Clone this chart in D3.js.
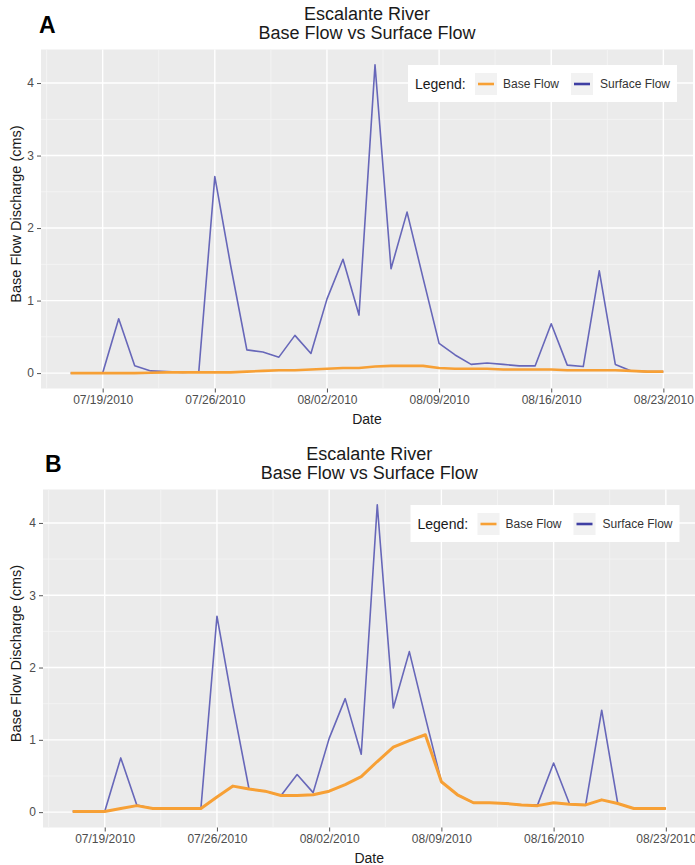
<!DOCTYPE html>
<html><head><meta charset="utf-8">
<script src="https://cdn.jsdelivr.net/npm/d3@7"></script>
<style>
body{margin:0;background:#fff}
svg{display:block}
text{font-family:"Liberation Sans",Arial,sans-serif}
</style>
</head><body>
<svg id="c" width="695" height="865"></svg>
<script>
// ---- data ----
const dates = ["07/17/2010","07/18/2010","07/19/2010","07/20/2010","07/21/2010","07/22/2010","07/23/2010","07/24/2010","07/25/2010","07/26/2010","07/27/2010","07/28/2010","07/29/2010","07/30/2010","07/31/2010","08/01/2010","08/02/2010","08/03/2010","08/04/2010","08/05/2010","08/06/2010","08/07/2010","08/08/2010","08/09/2010","08/10/2010","08/11/2010","08/12/2010","08/13/2010","08/14/2010","08/15/2010","08/16/2010","08/17/2010","08/18/2010","08/19/2010","08/20/2010","08/21/2010","08/22/2010","08/23/2010"];
const surfaceFlowA = [0,0,0,0.75,0.10,0.03,0.02,0.01,0.02,2.71,1.47,0.32,0.29,0.22,0.52,0.27,1.02,1.57,0.80,4.25,1.44,2.22,1.31,0.41,0.25,0.12,0.14,0.12,0.10,0.10,0.68,0.11,0.09,1.41,0.12,0.03,0.02,0.02];
const surfaceFlowB = [0.01,0.01,0.01,0.75,0.10,0.05,0.05,0.05,0.05,2.71,1.47,0.32,0.29,0.23,0.52,0.27,1.02,1.57,0.80,4.25,1.44,2.22,1.31,0.42,0.24,0.13,0.13,0.12,0.10,0.10,0.68,0.11,0.10,1.41,0.12,0.05,0.05,0.05];
const baseFlowA = [0,0,0,0,0,0.005,0.01,0.01,0.01,0.01,0.01,0.02,0.03,0.04,0.04,0.05,0.06,0.07,0.07,0.09,0.10,0.10,0.10,0.07,0.06,0.06,0.06,0.05,0.05,0.05,0.05,0.04,0.04,0.04,0.04,0.03,0.02,0.02];
const baseFlowB = [0.01,0.01,0.01,0.05,0.09,0.05,0.05,0.05,0.05,0.21,0.36,0.32,0.29,0.23,0.23,0.24,0.29,0.38,0.49,0.70,0.90,0.99,1.07,0.42,0.24,0.13,0.13,0.12,0.10,0.09,0.13,0.11,0.10,0.17,0.12,0.05,0.05,0.05];
const xTickLabels = ["07/19/2010","07/26/2010","08/02/2010","08/09/2010","08/16/2010","08/23/2010"];
const yTicks = [0,1,2,3,4];
const titleLines = ["Escalante River","Base Flow vs Surface Flow"];
const seriesNames = ["Base Flow","Surface Flow"];
const panelLetters = ["A","B"];

// ---- drawing ----
const parse = d3.timeParse("%m/%d/%Y");
const fmt = d3.timeFormat("%m/%d/%Y");
const svg = d3.select("#c");
const COL_BASE = "#f7a035", COL_SURF = "#6767b9", COL_SURF_KEY = "#3f3fa3";

function expand(ext, f){ const s = ext[1]-ext[0]; return [ext[0]-s*f, ext[1]+s*f]; }

function panel(opt){
  const g = svg.append("g");
  const dts = dates.map(parse);
  const xe = expand([+dts[0], +dts[dts.length-1]], 0.05);
  const ye = expand([0, d3.max(opt.surf.concat(opt.base))], 0.05);
  const x = d3.scaleTime().domain([new Date(xe[0]), new Date(xe[1])]).range([opt.x0, opt.x1]);
  const y = d3.scaleLinear().domain(ye).range([opt.y1, opt.y0]);

  g.append("rect").attr("x",opt.x0).attr("y",opt.y0).attr("width",opt.x1-opt.x0).attr("height",opt.y1-opt.y0).attr("fill","#ebebeb");

  const majorX = xTickLabels.map(parse);
  const dayMs = 86400000;
  const minorX = [];
  majorX.forEach(d=>{ minorX.push(new Date(+d - 3.5*dayMs)); });
  minorX.push(new Date(+majorX[majorX.length-1] + 3.5*dayMs));
  const minorY = [-0.5,0.5,1.5,2.5,3.5,4.5];

  const inX = d => x(d) >= opt.x0 && x(d) <= opt.x1;
  const inY = v => y(v) >= opt.y0 && y(v) <= opt.y1;
  g.selectAll(".mnx").data(minorX.filter(inX)).join("line")
    .attr("x1",d=>x(d)).attr("x2",d=>x(d)).attr("y1",opt.y0).attr("y2",opt.y1)
    .attr("stroke","#f5f5f5").attr("stroke-width",0.8);
  g.selectAll(".mny").data(minorY.filter(inY)).join("line")
    .attr("y1",d=>y(d)).attr("y2",d=>y(d)).attr("x1",opt.x0).attr("x2",opt.x1)
    .attr("stroke","#f5f5f5").attr("stroke-width",0.8);
  g.selectAll(".mjx").data(majorX).join("line")
    .attr("x1",d=>x(d)).attr("x2",d=>x(d)).attr("y1",opt.y0).attr("y2",opt.y1)
    .attr("stroke","#ffffff").attr("stroke-width",1.4);
  g.selectAll(".mjy").data(yTicks).join("line")
    .attr("y1",d=>y(d)).attr("y2",d=>y(d)).attr("x1",opt.x0).attr("x2",opt.x1)
    .attr("stroke","#ffffff").attr("stroke-width",1.4);

  // axes
  const xAxis = d3.axisBottom(x).tickValues(majorX).tickFormat(fmt).tickSizeInner(4).tickSizeOuter(0).tickPadding(3);
  const xa = g.append("g").attr("transform",`translate(0,${opt.y1})`).call(xAxis);
  xa.select(".domain").remove();
  xa.selectAll("line").attr("stroke","#555");
  xa.selectAll("text").attr("fill","#4d4d4d").style("font-size","12px");

  const yAxis = d3.axisLeft(y).tickValues(yTicks).tickFormat(d3.format("d")).tickSizeInner(4).tickSizeOuter(0).tickPadding(3);
  const ya = g.append("g").attr("transform",`translate(${opt.x0},0)`).call(yAxis);
  ya.select(".domain").remove();
  ya.selectAll("line").attr("stroke","#555");
  ya.selectAll("text").attr("fill","#4d4d4d").style("font-size","12px");

  // lines
  const line = vals => d3.line().x((d,i)=>x(dts[i])).y(d=>y(d))(vals);
  g.append("path").attr("d",line(opt.surf)).attr("fill","none").attr("stroke",COL_SURF).attr("stroke-width",1.6).attr("stroke-linejoin","round");
  g.append("path").attr("d",line(opt.base)).attr("fill","none").attr("stroke",COL_BASE).attr("stroke-width",opt.bw).attr("stroke-linejoin","round");

  // titles
  const cx = (opt.x0+opt.x1)/2;
  g.append("text").attr("x",cx).attr("y",opt.t1).attr("text-anchor","middle").attr("fill","#1a1a1a").style("font-size","18px").text(titleLines[0]);
  g.append("text").attr("x",cx).attr("y",opt.t1+19).attr("text-anchor","middle").attr("fill","#1a1a1a").style("font-size","18px").text(titleLines[1]);
  g.append("text").attr("x",opt.lx).attr("y",opt.ly).attr("fill","#000").style("font-size","23px").style("font-weight","bold").text(opt.letter);

  // axis titles
  g.append("text").attr("x",cx).attr("y",opt.y1+35).attr("text-anchor","middle").attr("fill","#1a1a1a").style("font-size","14px").text("Date");
  g.append("text").attr("transform",`translate(21,${(opt.y0+opt.y1)/2 - 5}) rotate(-90)`).attr("text-anchor","middle").attr("fill","#1a1a1a").style("font-size","14.5px").text("Base Flow Discharge (cms)");

  // legend
  const lg = g.append("g").attr("transform",`translate(${opt.x1-285},${opt.y0+15.5})`);
  lg.append("rect").attr("x",0).attr("y",0).attr("width",269).attr("height",37).attr("fill","#fff");
  lg.append("text").attr("x",7).attr("y",23.5).attr("fill","#1a1a1a").style("font-size","14px").text("Legend:");
  const keys = [{x:67,t:95,c:COL_BASE,n:seriesNames[0]},{x:163,t:192,c:COL_SURF_KEY,n:seriesNames[1]}];
  keys.forEach(k=>{
    lg.append("rect").attr("x",k.x).attr("y",8).attr("width",22).attr("height",22).attr("fill","#f2f2f2");
    lg.append("line").attr("x1",k.x+3).attr("x2",k.x+19).attr("y1",19).attr("y2",19).attr("stroke",k.c).attr("stroke-width",2.6);
    lg.append("text").attr("x",k.t).attr("y",23).attr("fill","#333").style("font-size","12px").text(k.n);
  });
}

panel({x0:41, x1:693, y0:49.5, y1:388.5, surf:surfaceFlowA, base:baseFlowA, bw:2.6, t1:20, lx:39, ly:33, letter:panelLetters[0]});
panel({x0:43, x1:695.5, y0:489.5, y1:827.5, surf:surfaceFlowB, base:baseFlowB, bw:3, t1:460, lx:45, ly:472, letter:panelLetters[1]});
</script>
</body></html>
